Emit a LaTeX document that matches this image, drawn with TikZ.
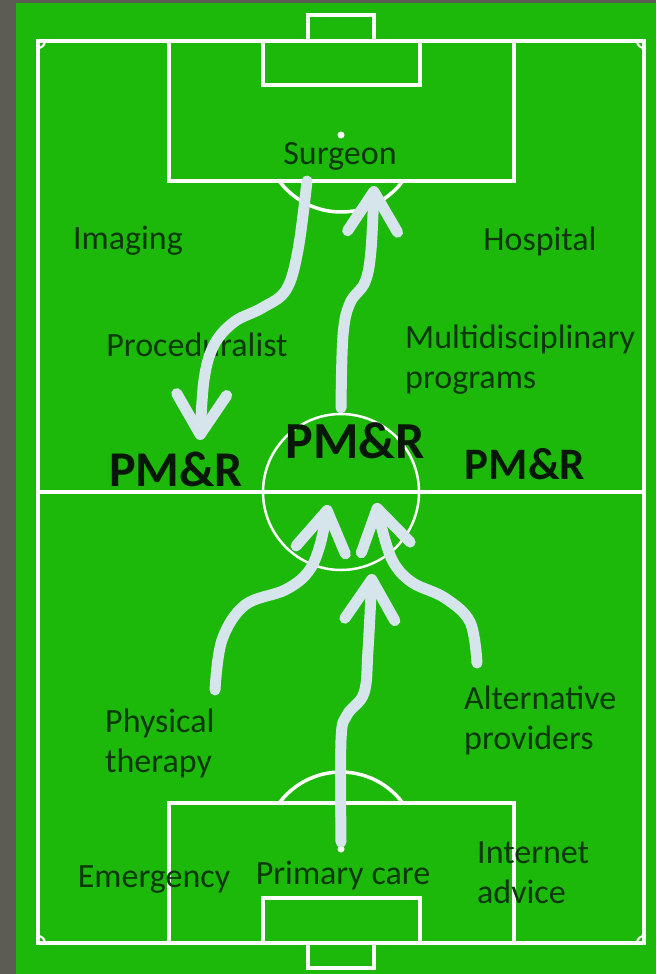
\documentclass[tikz,border=0pt]{standalone}
\usepackage{fontspec}
\setmainfont{Carlito}
\usetikzlibrary{arrows.meta,positioning}
\definecolor{pitchgreen}{RGB}{28,184,10}
\definecolor{pitchgray}{RGB}{92,92,82}
\definecolor{labelgreen}{RGB}{12,56,12}
\definecolor{pmrblack}{RGB}{8,24,8}
\definecolor{arrowblue}{RGB}{214,228,236}

\begin{document}
\begin{tikzpicture}[x=1pt, y=-1pt,
    pitchline/.style={draw=white, line width=3.5pt},
    lbl/.style={text=labelgreen, font=\fontsize{34}{40}\selectfont, inner sep=0pt},
    pmr/.style={text=pmrblack, font=\fontsize{50}{56}\selectfont\bfseries, inner sep=0pt},
    flow/.style={draw=arrowblue, line width=11pt, line cap=round,
      -{Straight Barb[length=40pt,width=50pt,round]}}]
      \useasboundingbox (0, 0) rectangle (656, 974);
      \fill[pitchgray] (0, 0) rectangle (656, 974);
      \fill[pitchgreen] (16, 3) rectangle (656, 974);

      % pitch
      \draw[pitchline] (38, 41) rectangle (644, 943);
      \draw[pitchline] (38, 492) -- (644, 492);
      \draw[white, line width=2.5pt] (341, 492) circle[radius=78pt];
      \draw[pitchline] (169, 41) rectangle (514, 181);
      \draw[pitchline] (263, 41) rectangle (420, 85);
      \draw[pitchline] (308, 15) rectangle (374, 41);
      \draw[pitchline] (169, 803) rectangle (514, 943);
      \draw[pitchline] (263, 898) rectangle (420, 943);
      \draw[pitchline] (308, 943) rectangle (374, 968);
      \draw[pitchline] (341, 135) ++(36.7:77) arc[start angle=-36.7, end angle=-143.3, radius=77pt];
      \draw[pitchline] (341, 849) ++(-36.7:77) arc[start angle=36.7, end angle=143.3, radius=77pt];
      \fill[white] (341, 135) circle[radius=3.5pt];
      \fill[white] (341, 849) circle[radius=3.5pt];
      \draw[white, line width=2pt] (45, 41) arc[start angle=0, end angle=-90, radius=7pt];
      \draw[white, line width=2pt] (644, 48) arc[start angle=-90, end angle=-180, radius=7pt];
      \draw[white, line width=2pt] (38, 936) arc[start angle=90, end angle=0, radius=7pt];
      \draw[white, line width=2pt] (637, 943) arc[start angle=180, end angle=90, radius=7pt];

      % labels
      \node[lbl] (surgeon) at (340, 156) {Surgeon};
      \node[lbl] (imaging) at (128, 241) {Imaging};
      \node[lbl] (hospital) at (540, 241) {Hospital};
      \node[lbl] (proc) at (197, 345) {Proceduralist};
      \node[lbl, anchor=west, align=left] (multi) at (405, 360) {Multidisciplinary\\programs};
      \node[pmr] (pmrleft) at (176, 469) {PM\&R};
      \node[pmr, font=\fontsize{52}{58}\selectfont\bfseries] (pmrmid) at (355, 441) {PM\&R};
      \node[pmr, font=\fontsize{45}{50}\selectfont\bfseries] (pmrright) at (525, 464) {PM\&R};
      \node[lbl, anchor=west, align=left] (physio) at (105, 743) {Physical\\therapy};
      \node[lbl, anchor=west, align=left] (altprov) at (464, 720) {Alternative\\providers};
      \node[lbl] (emerg) at (154, 880) {Emergency};
      \node[lbl] (primary) at (343, 876) {Primary care};
      \node[lbl, anchor=west, align=left] (internet) at (477, 873) {Internet\\advice};

      % flows
      \coordinate (surgeonout) at (307, 181);
      \coordinate (pmrin) at (200, 440);
      \coordinate (midout) at (341, 408);
      \coordinate (surgeonin) at (374, 186);
      \coordinate (physioout) at (215, 690);
      \coordinate (midinleft) at (328, 505);
      \coordinate (altout) at (477, 663);
      \coordinate (midinright) at (376, 503);
      \coordinate (primaryout) at (341, 842);
      \coordinate (midinlow) at (372, 574);

      \draw[flow] plot[smooth, tension=0.6] coordinates {(surgeonout) (298, 250) (286, 290) (262, 308) (234, 322) (214, 345) (204, 380) (pmrin)};
      \draw[flow] plot[smooth, tension=0.6] coordinates {(midout) (343, 335) (350, 303) (365, 282) (371, 250) (surgeonin)};
      \draw[flow] plot[smooth, tension=0.6] coordinates {(physioout) (222, 640) (245, 605) (285, 590) (308, 572) (320, 545) (midinleft)};
      \draw[flow] plot[smooth, tension=0.6] coordinates {(altout) (470, 622) (445, 598) (413, 583) (395, 565) (385, 540) (midinright)};
      \draw[flow] plot[smooth, tension=0.6] coordinates {(primaryout) (341, 740) (347, 715) (364, 693) (368, 650) (midinlow)};
\end{tikzpicture}
\end{document}
